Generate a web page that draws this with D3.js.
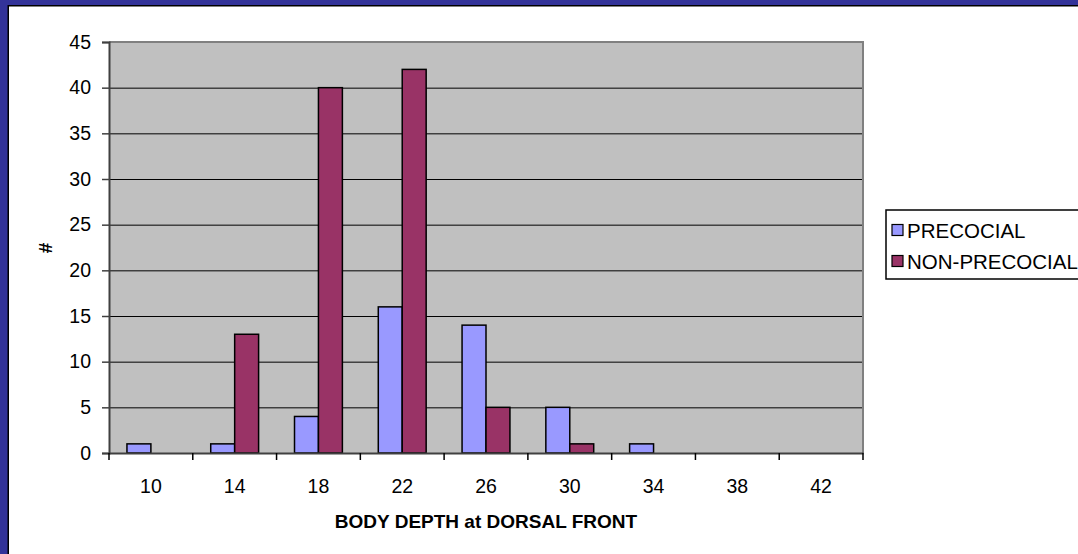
<!DOCTYPE html>
<html>
<head>
<meta charset="utf-8">
<script src="https://cdn.jsdelivr.net/npm/d3@7"></script>
<style>
  html, body { margin: 0; padding: 0; background: #fff; }
  svg { display: block; font-family: "Liberation Sans", Arial, sans-serif; }
</style>
</head>
<body>
<svg id="chart" width="1078" height="554"></svg>
<script>
// bins of body depth
var categories = ["10", "14", "18", "22", "26", "30", "34", "38", "42"];
var precocial = [1, 1, 4, 16, 14, 5, 1, 0, 0];
var nonPrecocial = [0, 13, 40, 42, 5, 1, 0, 0, 0];
var seriesNames = ["PRECOCIAL", "NON-PRECOCIAL"];
var seriesColors = ["#9999ff", "#993366"];
var yTicks = [0, 5, 10, 15, 20, 25, 30, 35, 40, 45];

var svg = d3.select("#chart");
var W = 1078, H = 554;
var FONT = "Liberation Sans, Arial, sans-serif";

// slide frame
svg.append("rect").attr("x", 0).attr("y", 0).attr("width", W).attr("height", H).attr("fill", "#333399");
svg.append("rect").attr("x", 7.5).attr("y", 5).attr("width", W - 7.5).attr("height", H - 5).attr("fill", "#000");
svg.append("rect").attr("x", 9).attr("y", 6.5).attr("width", W - 9).attr("height", H - 6.5).attr("fill", "#fff");

var plot = { left: 109, top: 42, right: 863, bottom: 453 };

var x = d3.scaleBand().domain(categories).range([plot.left, plot.right]);
var y = d3.scaleLinear().domain([0, 45]).range([plot.bottom, plot.top]);

// inner band for the two bars (gap width 150%)
var barW = x.bandwidth() / 3.5;
var xs = d3.scaleBand().domain(seriesNames).range([0, barW * 2]);

svg.append("rect")
  .attr("x", plot.left).attr("y", plot.top)
  .attr("width", plot.right - plot.left).attr("height", plot.bottom - plot.top)
  .attr("fill", "#c0c0c0");

// grid lines
svg.append("g").selectAll("line")
  .data(yTicks.filter(function(d) { return d > 0 && d < 45; }))
  .enter().append("line")
  .attr("x1", plot.left).attr("x2", plot.right)
  .attr("y1", function(d) { return y(d) + 0.5; })
  .attr("y2", function(d) { return y(d) + 0.5; })
  .attr("stroke", "#000").attr("stroke-width", 1);

// top and right border of plot area
svg.append("path")
  .attr("d", "M" + plot.left + "," + plot.top + "H" + plot.right + "V" + plot.bottom)
  .attr("fill", "none").attr("stroke", "#808080").attr("stroke-width", 2);

var data = categories.map(function(c, i) {
  return { cat: c, values: [precocial[i], nonPrecocial[i]] };
});

var groups = svg.append("g").selectAll("g")
  .data(data)
  .enter().append("g")
  .attr("transform", function(d) { return "translate(" + (x(d.cat) + (x.bandwidth() - barW * 2) / 2) + ",0)"; });

groups.selectAll("rect")
  .data(function(d) {
    return d.values.map(function(v, j) { return { name: seriesNames[j], value: v, color: seriesColors[j] }; })
      .filter(function(b) { return b.value > 0; });
  })
  .enter().append("rect")
  .attr("x", function(b) { return xs(b.name); })
  .attr("y", function(b) { return y(b.value); })
  .attr("width", xs.bandwidth())
  .attr("height", function(b) { return y(0) - y(b.value); })
  .attr("fill", function(b) { return b.color; })
  .attr("stroke", "#000").attr("stroke-width", 1.5);

// y axis
var yAxis = svg.append("g")
  .attr("transform", "translate(" + plot.left + ",0)")
  .call(d3.axisLeft(y).tickValues(yTicks).tickSize(7).tickPadding(11));
yAxis.select(".domain").attr("stroke", "#404040").attr("stroke-width", 2);
yAxis.selectAll(".tick line").attr("stroke", "#404040").attr("stroke-width", 1.5);
yAxis.selectAll("text").attr("font-size", "19.5px").attr("fill", "#000")
  .attr("font-family", FONT);

// x axis - ticks at bin boundaries, labels placed well below the axis
var xAxis = svg.append("g")
  .attr("transform", "translate(0," + plot.bottom + ")")
  .call(d3.axisBottom(x).tickSize(0).tickPadding(40));
xAxis.select(".domain").attr("stroke", "#404040").attr("stroke-width", 2);
xAxis.selectAll("text").attr("font-size", "19.5px").attr("fill", "#000")
  .attr("font-family", FONT).attr("dy", "0");

var bounds = categories.map(function(c) { return x(c); }).concat([plot.right]);
svg.append("g").selectAll("line")
  .data(bounds)
  .enter().append("line")
  .attr("x1", function(d) { return d; }).attr("x2", function(d) { return d; })
  .attr("y1", plot.bottom).attr("y2", plot.bottom + 7)
  .attr("stroke", "#000").attr("stroke-width", 1.5);

// axis titles
svg.append("text")
  .attr("x", (plot.left + plot.right) / 2).attr("y", 528)
  .attr("text-anchor", "middle")
  .attr("font-size", "19px").attr("font-weight", "bold")
  .text("BODY DEPTH at DORSAL FRONT");

svg.append("text")
  .attr("transform", "translate(52,248) rotate(-90)")
  .attr("text-anchor", "middle")
  .attr("font-size", "19px").attr("font-weight", "bold")
  .text("#");

// legend
var legend = svg.append("g").attr("transform", "translate(886,210)");
legend.append("rect")
  .attr("x", 0).attr("y", 0).attr("width", 200).attr("height", 69)
  .attr("fill", "#fff").attr("stroke", "#000").attr("stroke-width", 1.5);

var items = legend.selectAll("g.item")
  .data(seriesNames)
  .enter().append("g")
  .attr("transform", function(d, i) { return "translate(6," + (20 + i * 31) + ")"; });
items.append("rect")
  .attr("x", 0).attr("y", -5.5).attr("width", 11).attr("height", 11)
  .attr("fill", function(d, i) { return seriesColors[i]; })
  .attr("stroke", "#000").attr("stroke-width", 1.2);
items.append("text")
  .attr("x", 15).attr("y", 7.5)
  .attr("font-size", "20.5px")
  .text(function(d) { return d; });
</script>
</body>
</html>
